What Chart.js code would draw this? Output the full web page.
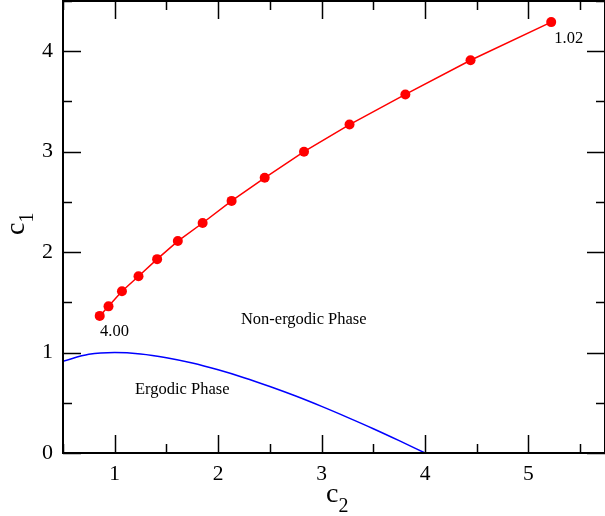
<!DOCTYPE html>
<html>
<head>
<meta charset="utf-8">
<script src="https://cdn.jsdelivr.net/npm/chart.js@4"></script>
<style>
  html, body { margin: 0; padding: 0; background: #fff; }
</style>
</head>
<body>
<canvas id="myChart" width="605" height="516"></canvas>
<script>
// critical line, red points (c2, c1)
const redC2 = [0.855, 0.94, 1.07, 1.23, 1.41, 1.61, 1.85, 2.13, 2.45, 2.83, 3.27, 3.81, 4.44, 5.22];
const redC1 = [1.365, 1.46, 1.61, 1.76, 1.93, 2.11, 2.29, 2.51, 2.74, 3.00, 3.27, 3.57, 3.91, 4.29];

// ergodic boundary, blue curve
const blueC2 = [0.5, 0.75, 1.0, 1.25, 1.5, 1.75, 2.0, 2.25, 2.5, 2.75, 3.0, 3.25, 3.5, 3.75, 4.0];
const blueC1 = [0.914, 0.982, 1.0, 0.986, 0.949, 0.896, 0.828, 0.75, 0.662, 0.567, 0.464, 0.355, 0.242, 0.123, 0.0];

const xTicks = [1, 2, 3, 4, 5];
const yTicks = [0, 1, 2, 3, 4];

const serif = "'Liberation Serif', 'DejaVu Serif', serif";

// text labels on the plot, placed in data coordinates
const notes = [
  { text: "4.00", x: 0.858, y: 1.16 },
  { text: "1.02", x: 5.25, y: 4.08 },
  { text: "Non-ergodic Phase", x: 2.22, y: 1.28 },
  { text: "Ergodic Phase", x: 1.196, y: 0.585 }
];

const noPad = s => { s.paddingTop = 0; s.paddingBottom = 0; s.paddingLeft = 0; s.paddingRight = 0; };

const framePlugin = {
  id: 'frame',
  afterDraw(chart) {
    const ctx = chart.ctx;
    const a = chart.chartArea;
    const xs = chart.scales.x, ys = chart.scales.y;
    ctx.save();
    ctx.strokeStyle = '#000';

    // inward ticks on all four sides
    ctx.lineWidth = 1.5;
    const tick = (x1, y1, x2, y2) => { ctx.beginPath(); ctx.moveTo(x1, y1); ctx.lineTo(x2, y2); ctx.stroke(); };
    for (let v = 0.5; v <= xs.max + 1e-9; v += 0.5) {
      const len = Number.isInteger(v) ? 18 : 9;
      const px = Math.round(xs.getPixelForValue(v)) + 0.5;
      tick(px, a.bottom, px, a.bottom - len);
      tick(px, a.top, px, a.top + len);
    }
    for (let v = 0; v <= ys.max + 1e-9; v += 0.5) {
      const len = Number.isInteger(v) ? 18 : 9;
      const py = Math.round(ys.getPixelForValue(v)) + 0.5;
      tick(a.left, py, a.left + len, py);
      tick(a.right, py, a.right - len, py);
    }

    ctx.lineWidth = 2;
    ctx.strokeRect(a.left, a.top, a.right - a.left, a.bottom - a.top);

    // annotations
    ctx.fillStyle = '#000';
    ctx.font = "16.5px " + serif;
    ctx.textAlign = 'left';
    ctx.textBaseline = 'alphabetic';
    notes.forEach(n => ctx.fillText(n.text, xs.getPixelForValue(n.x), ys.getPixelForValue(n.y)));

    // axis titles with subscripts
    ctx.font = "28px " + serif;
    ctx.fillText('c', 326, 502);
    const cw = ctx.measureText('c').width;
    ctx.font = "20px " + serif;
    ctx.fillText('2', 326 + cw, 511.5);

    ctx.translate(24, 235);
    ctx.rotate(-Math.PI / 2);
    ctx.font = "28px " + serif;
    ctx.fillText('c', 0, 0);
    ctx.font = "20px " + serif;
    ctx.fillText('1', cw, 9);
    ctx.restore();
  }
};

const ctx = document.getElementById('myChart').getContext('2d');
new Chart(ctx, {
  type: 'scatter',
  data: {
    datasets: [{
      data: redC2.map((x, i) => ({ x: x, y: redC1[i] })),
      showLine: true,
      borderColor: '#ff0000',
      backgroundColor: '#ff0000',
      borderWidth: 1.5,
      pointRadius: 5,
      pointBorderWidth: 0
    }, {
      data: blueC2.map((x, i) => ({ x: x, y: blueC1[i] })),
      showLine: true,
      borderColor: '#0000ff',
      borderWidth: 1.5,
      pointRadius: 0,
      cubicInterpolationMode: 'monotone'
    }]
  },
  options: {
    responsive: false,
    animation: false,
    layout: { autoPadding: false, padding: { top: 1, right: 0, left: 0, bottom: 0 } },
    plugins: { legend: { display: false }, tooltip: { enabled: false } },
    scales: {
      x: {
        type: 'linear',
        min: 0.5,
        max: 5.74,
        grid: { display: false },
        border: { display: false },
        ticks: { color: '#000', font: { family: serif, size: 21.5 }, padding: 0 },
        afterBuildTicks: s => { s.ticks = xTicks.map(v => ({ value: v })); },
        afterFit: s => { s.height = 63; noPad(s); }
      },
      y: {
        type: 'linear',
        min: 0,
        max: 4.5,
        grid: { display: false },
        border: { display: false },
        ticks: { color: '#000', font: { family: serif, size: 22 }, padding: 2 },
        afterBuildTicks: s => { s.ticks = yTicks.map(v => ({ value: v })); },
        afterFit: s => { s.width = 63; noPad(s); }
      }
    }
  },
  plugins: [framePlugin]
});
</script>
</body>
</html>
